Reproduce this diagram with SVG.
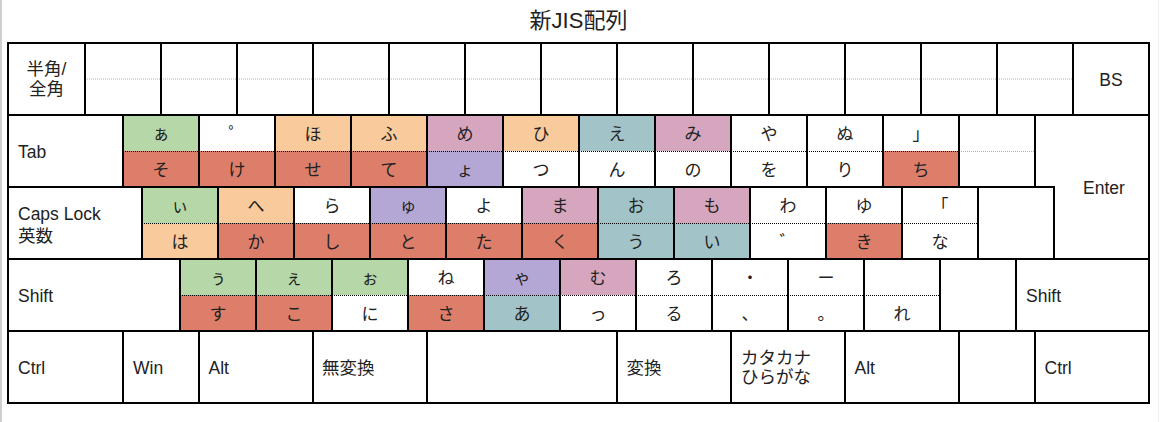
<svg xmlns="http://www.w3.org/2000/svg" width="1160" height="422" viewBox="0 0 1160 422">
<style>
.k{fill:none;stroke:#000;stroke-width:2}
.W{fill:#fff}.G{fill:#b6d7a8}.O{fill:#f9cb9c}.R{fill:#dd7e6b}.V{fill:#b4a7d6}.P{fill:#d5a6bd}.T{fill:#a2c4c9}
.dot{stroke:#000;stroke-width:1;stroke-dasharray:1 1}
.gdot{stroke:#b0b0b0;stroke-width:1;stroke-dasharray:1 1}
.kana{font-family:"Noto Sans CJK JP","Noto Sans CJK SC",sans-serif;font-size:17px;fill:#222;text-anchor:middle}
.lbl{font-family:"Liberation Sans","Noto Sans CJK JP",sans-serif;font-size:17.5px;fill:#222}
.ttl{font-family:"Liberation Sans","Noto Sans CJK JP",sans-serif;font-size:22px;fill:#222;text-anchor:middle}
</style>
<rect x="0" y="0" width="1160" height="422" fill="#fff"/>
<line x1="1" y1="0" x2="1" y2="422" stroke="#cfcfcf" stroke-width="2"/>
<line x1="1158.5" y1="0" x2="1158.5" y2="422" stroke="#f0f0f0" stroke-width="1"/>
<text class="ttl" x="578.5" y="28">新JIS配列</text>
<g id="connectors"></g>

<!-- Row 1 -->
<g id="k-hankaku"><rect class="k W" x="8" y="43" width="77" height="72"/><text class="lbl" x="46.5" y="75" text-anchor="middle">半角/</text><text class="lbl" x="46.5" y="95" text-anchor="middle">全角</text></g>
<g id="k-1"><rect class="W" x="85" y="43" width="76" height="72"/><line class="gdot" x1="85" y1="79" x2="161" y2="79"/><rect class="k" x="85" y="43" width="76" height="72"/></g>
<g id="k-2"><rect class="W" x="161" y="43" width="76" height="72"/><line class="gdot" x1="161" y1="79" x2="237" y2="79"/><rect class="k" x="161" y="43" width="76" height="72"/></g>
<g id="k-3"><rect class="W" x="237" y="43" width="76" height="72"/><line class="gdot" x1="237" y1="79" x2="313" y2="79"/><rect class="k" x="237" y="43" width="76" height="72"/></g>
<g id="k-4"><rect class="W" x="313" y="43" width="76" height="72"/><line class="gdot" x1="313" y1="79" x2="389" y2="79"/><rect class="k" x="313" y="43" width="76" height="72"/></g>
<g id="k-5"><rect class="W" x="389" y="43" width="76" height="72"/><line class="gdot" x1="389" y1="79" x2="465" y2="79"/><rect class="k" x="389" y="43" width="76" height="72"/></g>
<g id="k-6"><rect class="W" x="465" y="43" width="76" height="72"/><line class="gdot" x1="465" y1="79" x2="541" y2="79"/><rect class="k" x="465" y="43" width="76" height="72"/></g>
<g id="k-7"><rect class="W" x="541" y="43" width="76" height="72"/><line class="gdot" x1="541" y1="79" x2="617" y2="79"/><rect class="k" x="541" y="43" width="76" height="72"/></g>
<g id="k-8"><rect class="W" x="617" y="43" width="76" height="72"/><line class="gdot" x1="617" y1="79" x2="693" y2="79"/><rect class="k" x="617" y="43" width="76" height="72"/></g>
<g id="k-9"><rect class="W" x="693" y="43" width="76" height="72"/><line class="gdot" x1="693" y1="79" x2="769" y2="79"/><rect class="k" x="693" y="43" width="76" height="72"/></g>
<g id="k-0"><rect class="W" x="769" y="43" width="76" height="72"/><line class="gdot" x1="769" y1="79" x2="845" y2="79"/><rect class="k" x="769" y="43" width="76" height="72"/></g>
<g id="k-minus"><rect class="W" x="845" y="43" width="76" height="72"/><line class="gdot" x1="845" y1="79" x2="921" y2="79"/><rect class="k" x="845" y="43" width="76" height="72"/></g>
<g id="k-caret"><rect class="W" x="921" y="43" width="76" height="72"/><line class="gdot" x1="921" y1="79" x2="997" y2="79"/><rect class="k" x="921" y="43" width="76" height="72"/></g>
<g id="k-yen"><rect class="W" x="997" y="43" width="76" height="72"/><line class="gdot" x1="997" y1="79" x2="1073" y2="79"/><rect class="k" x="997" y="43" width="76" height="72"/></g>
<g id="k-bs"><rect class="k W" x="1073" y="43" width="76" height="72"/><text class="lbl" x="1111" y="86" text-anchor="middle">BS</text></g>

<!-- Row 2 -->
<g id="k-tab"><rect class="k W" x="8" y="115" width="115" height="72"/><text class="lbl" x="18" y="157.5">Tab</text></g>
<g id="k-q"><rect class="G" x="123" y="115" width="76" height="36"/><rect class="R" x="123" y="151" width="76" height="36"/><line class="dot" x1="123" y1="151.5" x2="199" y2="151.5"/><rect class="k" x="123" y="115" width="76" height="72"/><text class="kana" x="161" y="139.5">ぁ</text><text class="kana" x="161" y="175.5">そ</text></g>
<g id="k-w"><rect class="W" x="199" y="115" width="76" height="36"/><rect class="R" x="199" y="151" width="76" height="36"/><line class="dot" x1="199" y1="151.5" x2="275" y2="151.5"/><rect class="k" x="199" y="115" width="76" height="72"/><text class="kana" x="237" y="139.5">゜</text><text class="kana" x="237" y="175.5">け</text></g>
<g id="k-e"><rect class="O" x="275" y="115" width="76" height="36"/><rect class="R" x="275" y="151" width="76" height="36"/><line class="dot" x1="275" y1="151.5" x2="351" y2="151.5"/><rect class="k" x="275" y="115" width="76" height="72"/><text class="kana" x="313" y="139.5">ほ</text><text class="kana" x="313" y="175.5">せ</text></g>
<g id="k-r"><rect class="O" x="351" y="115" width="76" height="36"/><rect class="R" x="351" y="151" width="76" height="36"/><line class="dot" x1="351" y1="151.5" x2="427" y2="151.5"/><rect class="k" x="351" y="115" width="76" height="72"/><text class="kana" x="389" y="139.5">ふ</text><text class="kana" x="389" y="175.5">て</text></g>
<g id="k-t"><rect class="P" x="427" y="115" width="76" height="36"/><rect class="V" x="427" y="151" width="76" height="36"/><line class="dot" x1="427" y1="151.5" x2="503" y2="151.5"/><rect class="k" x="427" y="115" width="76" height="72"/><text class="kana" x="465" y="139.5">め</text><text class="kana" x="465" y="175.5">ょ</text></g>
<g id="k-y"><rect class="O" x="503" y="115" width="76" height="36"/><rect class="W" x="503" y="151" width="76" height="36"/><line class="dot" x1="503" y1="151.5" x2="579" y2="151.5"/><rect class="k" x="503" y="115" width="76" height="72"/><text class="kana" x="541" y="139.5">ひ</text><text class="kana" x="541" y="175.5">つ</text></g>
<g id="k-u"><rect class="T" x="579" y="115" width="76" height="36"/><rect class="W" x="579" y="151" width="76" height="36"/><line class="dot" x1="579" y1="151.5" x2="655" y2="151.5"/><rect class="k" x="579" y="115" width="76" height="72"/><text class="kana" x="617" y="139.5">え</text><text class="kana" x="617" y="175.5">ん</text></g>
<g id="k-i"><rect class="P" x="655" y="115" width="76" height="36"/><rect class="W" x="655" y="151" width="76" height="36"/><line class="dot" x1="655" y1="151.5" x2="731" y2="151.5"/><rect class="k" x="655" y="115" width="76" height="72"/><text class="kana" x="693" y="139.5">み</text><text class="kana" x="693" y="175.5">の</text></g>
<g id="k-o"><rect class="W" x="731" y="115" width="76" height="72"/><line class="dot" x1="731" y1="151.5" x2="807" y2="151.5"/><rect class="k" x="731" y="115" width="76" height="72"/><text class="kana" x="769" y="139.5">や</text><text class="kana" x="769" y="175.5">を</text></g>
<g id="k-p"><rect class="W" x="807" y="115" width="76" height="72"/><line class="dot" x1="807" y1="151.5" x2="883" y2="151.5"/><rect class="k" x="807" y="115" width="76" height="72"/><text class="kana" x="845" y="139.5">ぬ</text><text class="kana" x="845" y="175.5">り</text></g>
<g id="k-at"><rect class="W" x="883" y="115" width="76" height="36"/><rect class="R" x="883" y="151" width="76" height="36"/><line class="dot" x1="883" y1="151.5" x2="959" y2="151.5"/><rect class="k" x="883" y="115" width="76" height="72"/><text class="kana" x="921" y="139.5">」</text><text class="kana" x="921" y="175.5">ち</text></g>
<g id="k-bracket"><rect class="W" x="959" y="115" width="76" height="72"/><line class="gdot" x1="959" y1="151.5" x2="1035" y2="151.5"/><rect class="k" x="959" y="115" width="76" height="72"/></g>
<g id="k-enter"><polygon class="k W" points="1035,115 1149,115 1149,259 1054,259 1054,187 1035,187"/><text class="lbl" x="1083" y="194">Enter</text></g>

<!-- Row 3 -->
<g id="k-caps"><rect class="k W" x="8" y="187" width="134" height="72"/><text class="lbl" x="18" y="219.5">Caps Lock</text><text class="lbl" x="18" y="241.5">英数</text></g>
<g id="k-a"><rect class="G" x="142" y="187" width="76" height="36"/><rect class="O" x="142" y="223" width="76" height="36"/><line class="dot" x1="142" y1="223.5" x2="218" y2="223.5"/><rect class="k" x="142" y="187" width="76" height="72"/><text class="kana" x="180" y="211.5">ぃ</text><text class="kana" x="180" y="247.5">は</text></g>
<g id="k-s"><rect class="O" x="218" y="187" width="76" height="36"/><rect class="R" x="218" y="223" width="76" height="36"/><line class="dot" x1="218" y1="223.5" x2="294" y2="223.5"/><rect class="k" x="218" y="187" width="76" height="72"/><text class="kana" x="256" y="211.5">へ</text><text class="kana" x="256" y="247.5">か</text></g>
<g id="k-d"><rect class="W" x="294" y="187" width="76" height="36"/><rect class="R" x="294" y="223" width="76" height="36"/><line class="dot" x1="294" y1="223.5" x2="370" y2="223.5"/><rect class="k" x="294" y="187" width="76" height="72"/><text class="kana" x="332" y="211.5">ら</text><text class="kana" x="332" y="247.5">し</text></g>
<g id="k-f"><rect class="V" x="370" y="187" width="76" height="36"/><rect class="R" x="370" y="223" width="76" height="36"/><line class="dot" x1="370" y1="223.5" x2="446" y2="223.5"/><rect class="k" x="370" y="187" width="76" height="72"/><text class="kana" x="408" y="211.5">ゅ</text><text class="kana" x="408" y="247.5">と</text></g>
<g id="k-g"><rect class="W" x="446" y="187" width="76" height="36"/><rect class="R" x="446" y="223" width="76" height="36"/><line class="dot" x1="446" y1="223.5" x2="522" y2="223.5"/><rect class="k" x="446" y="187" width="76" height="72"/><text class="kana" x="484" y="211.5">よ</text><text class="kana" x="484" y="247.5">た</text></g>
<g id="k-h"><rect class="P" x="522" y="187" width="76" height="36"/><rect class="R" x="522" y="223" width="76" height="36"/><line class="dot" x1="522" y1="223.5" x2="598" y2="223.5"/><rect class="k" x="522" y="187" width="76" height="72"/><text class="kana" x="560" y="211.5">ま</text><text class="kana" x="560" y="247.5">く</text></g>
<g id="k-j"><rect class="T" x="598" y="187" width="76" height="72"/><line class="dot" x1="598" y1="223.5" x2="674" y2="223.5"/><rect class="k" x="598" y="187" width="76" height="72"/><text class="kana" x="636" y="211.5">お</text><text class="kana" x="636" y="247.5">う</text></g>
<g id="k-k"><rect class="P" x="674" y="187" width="76" height="36"/><rect class="T" x="674" y="223" width="76" height="36"/><line class="dot" x1="674" y1="223.5" x2="750" y2="223.5"/><rect class="k" x="674" y="187" width="76" height="72"/><text class="kana" x="712" y="211.5">も</text><text class="kana" x="712" y="247.5">い</text></g>
<g id="k-l"><rect class="W" x="750" y="187" width="76" height="72"/><line class="dot" x1="750" y1="223.5" x2="826" y2="223.5"/><rect class="k" x="750" y="187" width="76" height="72"/><text class="kana" x="788" y="211.5">わ</text><text class="kana" x="788" y="247.5">゛</text></g>
<g id="k-semicolon"><rect class="W" x="826" y="187" width="76" height="36"/><rect class="R" x="826" y="223" width="76" height="36"/><line class="dot" x1="826" y1="223.5" x2="902" y2="223.5"/><rect class="k" x="826" y="187" width="76" height="72"/><text class="kana" x="864" y="211.5">ゆ</text><text class="kana" x="864" y="247.5">き</text></g>
<g id="k-colon"><rect class="W" x="902" y="187" width="76" height="72"/><line class="dot" x1="902" y1="223.5" x2="978" y2="223.5"/><rect class="k" x="902" y="187" width="76" height="72"/><text class="kana" x="940" y="211.5">「</text><text class="kana" x="940" y="247.5">な</text></g>
<g id="k-rbracket"><rect class="k W" x="978" y="187" width="76" height="72"/></g>

<!-- Row 4 -->
<g id="k-lshift"><rect class="k W" x="8" y="259" width="172" height="72"/><text class="lbl" x="18" y="301.5">Shift</text></g>
<g id="k-z"><rect class="G" x="180" y="259" width="76" height="36"/><rect class="R" x="180" y="295" width="76" height="36"/><line class="dot" x1="180" y1="295.5" x2="256" y2="295.5"/><rect class="k" x="180" y="259" width="76" height="72"/><text class="kana" x="218" y="283.5">ぅ</text><text class="kana" x="218" y="319.5">す</text></g>
<g id="k-x"><rect class="G" x="256" y="259" width="76" height="36"/><rect class="R" x="256" y="295" width="76" height="36"/><line class="dot" x1="256" y1="295.5" x2="332" y2="295.5"/><rect class="k" x="256" y="259" width="76" height="72"/><text class="kana" x="294" y="283.5">ぇ</text><text class="kana" x="294" y="319.5">こ</text></g>
<g id="k-c"><rect class="G" x="332" y="259" width="76" height="36"/><rect class="W" x="332" y="295" width="76" height="36"/><line class="dot" x1="332" y1="295.5" x2="408" y2="295.5"/><rect class="k" x="332" y="259" width="76" height="72"/><text class="kana" x="370" y="283.5">ぉ</text><text class="kana" x="370" y="319.5">に</text></g>
<g id="k-v"><rect class="W" x="408" y="259" width="76" height="36"/><rect class="R" x="408" y="295" width="76" height="36"/><line class="dot" x1="408" y1="295.5" x2="484" y2="295.5"/><rect class="k" x="408" y="259" width="76" height="72"/><text class="kana" x="446" y="283.5">ね</text><text class="kana" x="446" y="319.5">さ</text></g>
<g id="k-b"><rect class="V" x="484" y="259" width="76" height="36"/><rect class="T" x="484" y="295" width="76" height="36"/><line class="dot" x1="484" y1="295.5" x2="560" y2="295.5"/><rect class="k" x="484" y="259" width="76" height="72"/><text class="kana" x="522" y="283.5">ゃ</text><text class="kana" x="522" y="319.5">あ</text></g>
<g id="k-n"><rect class="P" x="560" y="259" width="76" height="36"/><rect class="W" x="560" y="295" width="76" height="36"/><line class="dot" x1="560" y1="295.5" x2="636" y2="295.5"/><rect class="k" x="560" y="259" width="76" height="72"/><text class="kana" x="598" y="283.5">む</text><text class="kana" x="598" y="319.5">っ</text></g>
<g id="k-m"><rect class="W" x="636" y="259" width="76" height="72"/><line class="dot" x1="636" y1="295.5" x2="712" y2="295.5"/><rect class="k" x="636" y="259" width="76" height="72"/><text class="kana" x="674" y="283.5">ろ</text><text class="kana" x="674" y="319.5">る</text></g>
<g id="k-comma"><rect class="W" x="712" y="259" width="76" height="72"/><line class="dot" x1="712" y1="295.5" x2="788" y2="295.5"/><rect class="k" x="712" y="259" width="76" height="72"/><text class="kana" x="750" y="283.5">・</text><text class="kana" x="750" y="319.5">、</text></g>
<g id="k-period"><rect class="W" x="788" y="259" width="76" height="72"/><line class="dot" x1="788" y1="295.5" x2="864" y2="295.5"/><rect class="k" x="788" y="259" width="76" height="72"/><text class="kana" x="826" y="283.5">ー</text><text class="kana" x="826" y="319.5">。</text></g>
<g id="k-slash"><rect class="W" x="864" y="259" width="76" height="72"/><line class="dot" x1="864" y1="295.5" x2="940" y2="295.5"/><rect class="k" x="864" y="259" width="76" height="72"/><text class="kana" x="902" y="319.5">れ</text></g>
<g id="k-backslash"><rect class="k W" x="940" y="259" width="76" height="72"/></g>
<g id="k-rshift"><rect class="k W" x="1016" y="259" width="133" height="72"/><text class="lbl" x="1026" y="301.5">Shift</text></g>

<!-- Row 5 -->
<g id="k-lctrl"><rect class="k W" x="8" y="331" width="115" height="72"/><text class="lbl" x="18" y="373.5">Ctrl</text></g>
<g id="k-win"><rect class="k W" x="123" y="331" width="76" height="72"/><text class="lbl" x="133" y="373.5">Win</text></g>
<g id="k-lalt"><rect class="k W" x="199" y="331" width="114" height="72"/><text class="lbl" x="208.5" y="373.5">Alt</text></g>
<g id="k-muhenkan"><rect class="k W" x="313" y="331" width="114" height="72"/><text class="lbl" x="322" y="373.5">無変換</text></g>
<g id="k-space"><rect class="k W" x="427" y="331" width="190" height="72"/></g>
<g id="k-henkan"><rect class="k W" x="617" y="331" width="114" height="72"/><text class="lbl" x="626.5" y="373.5">変換</text></g>
<g id="k-kana"><rect class="k W" x="731" y="331" width="114" height="72"/><text class="lbl" x="741" y="364">カタカナ</text><text class="lbl" x="741" y="383">ひらがな</text></g>
<g id="k-ralt"><rect class="k W" x="845" y="331" width="114" height="72"/><text class="lbl" x="854.5" y="373.5">Alt</text></g>
<g id="k-blank5"><rect class="k W" x="959" y="331" width="76" height="72"/></g>
<g id="k-rctrl"><rect class="k W" x="1035" y="331" width="114" height="72"/><text class="lbl" x="1044.5" y="373.5">Ctrl</text></g>
</svg>
